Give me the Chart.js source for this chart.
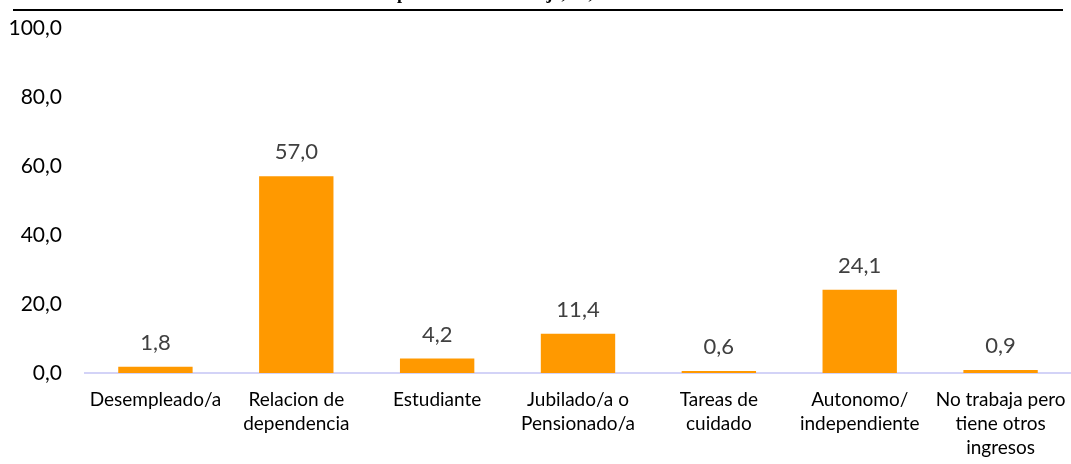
<!DOCTYPE html>
<html>
<head>
<meta charset="utf-8">
<script src="https://cdn.jsdelivr.net/npm/chart.js@4.4.1/dist/chart.umd.min.js"></script>
<style>
  html, body { margin: 0; padding: 0; background: #fff; }
  .chartBox { width: 1071px; height: 464px; }
</style>
</head>
<body>
<div class="chartBox">
  <canvas id="myChart"></canvas>
</div>
<script>
// data
const categories = [
  'Desempleado/a',
  ['Relacion de', 'dependencia'],
  'Estudiante',
  ['Jubilado/a o', 'Pensionado/a'],
  ['Tareas de', 'cuidado'],
  ['Autonomo/', 'independiente'],
  ['No trabaja pero', 'tiene otros', 'ingresos']
]
const values = [1.8, 57.0, 4.2, 11.4, 0.6, 24.1, 0.9]
const yTicks = [0, 20, 40, 60, 80, 100]
const titleText = 'Encuestados por estado de trabajo, %,'

const fmt = v => v.toFixed(1).replace('.', ',')

// title fragment + rule at the top (title is cut off in the picture)
const topRule = {
  id: 'topRule',
  afterDraw(chart) {
    const { ctx } = chart
    ctx.save()
    ctx.font = 'bold 18px "Liberation Serif"'
    ctx.fillStyle = '#000'
    ctx.textBaseline = 'alphabetic'
    const pre = ctx.measureText('Encuestados ').width
    ctx.fillText(titleText, 397 - pre, -1)
    ctx.strokeStyle = '#000'
    ctx.lineWidth = 2
    ctx.beginPath()
    ctx.moveTo(13, 10)
    ctx.lineTo(1063, 10)
    ctx.stroke()
    ctx.restore()
  }
}

// value labels above bars
const barLabels = {
  id: 'barLabels',
  afterDatasetsDraw(chart) {
    const { ctx } = chart
    const meta = chart.getDatasetMeta(0)
    ctx.save()
    ctx.font = '22px Lato'
    ctx.fillStyle = '#404040'
    ctx.textAlign = 'center'
    ctx.textBaseline = 'bottom'
    meta.data.forEach((bar, i) => {
      ctx.fillText(fmt(values[i]), bar.x, bar.y - 13)
    })
    ctx.restore()
  }
}

const config = {
  type: 'bar',
  data: {
    labels: categories,
    datasets: [{
      data: values,
      backgroundColor: '#FF9900',
      borderWidth: 0,
      barPercentage: 0.66,
      categoryPercentage: 0.8
    }]
  },
  options: {
    responsive: true,
    maintainAspectRatio: false,
    animation: false,
    layout: { padding: { top: 28, left: 0, right: 0, bottom: 0 } },
    plugins: {
      legend: { display: false },
      tooltip: { enabled: false }
    },
    scales: {
      x: {
        grid: { display: false, drawTicks: false },
        border: { display: true, color: '#D3D3F7', width: 2 },
        ticks: {
          color: '#000',
          font: { family: 'Lato', size: 19, lineHeight: 1.27 },
          padding: 15,
          maxRotation: 0,
          autoSkip: false
        },
        afterFit(scale) {
          scale.height = 91
          scale.paddingLeft = 0
          scale.paddingRight = 0
        }
      },
      y: {
        min: 0,
        max: 100,
        afterBuildTicks(scale) { scale.ticks = yTicks.map(v => ({ value: v })) },
        grid: { display: false, drawTicks: false },
        border: { display: false },
        ticks: {
          color: '#000',
          font: { family: 'Lato', size: 21 },
          padding: 23,
          callback: v => fmt(v)
        },
        afterFit(scale) {
          scale.width = 85
          scale.paddingTop = 0
          scale.paddingBottom = 0
        }
      }
    }
  },
  plugins: [barLabels, topRule]
}

new Chart(document.getElementById('myChart'), config)
</script>
</body>
</html>
